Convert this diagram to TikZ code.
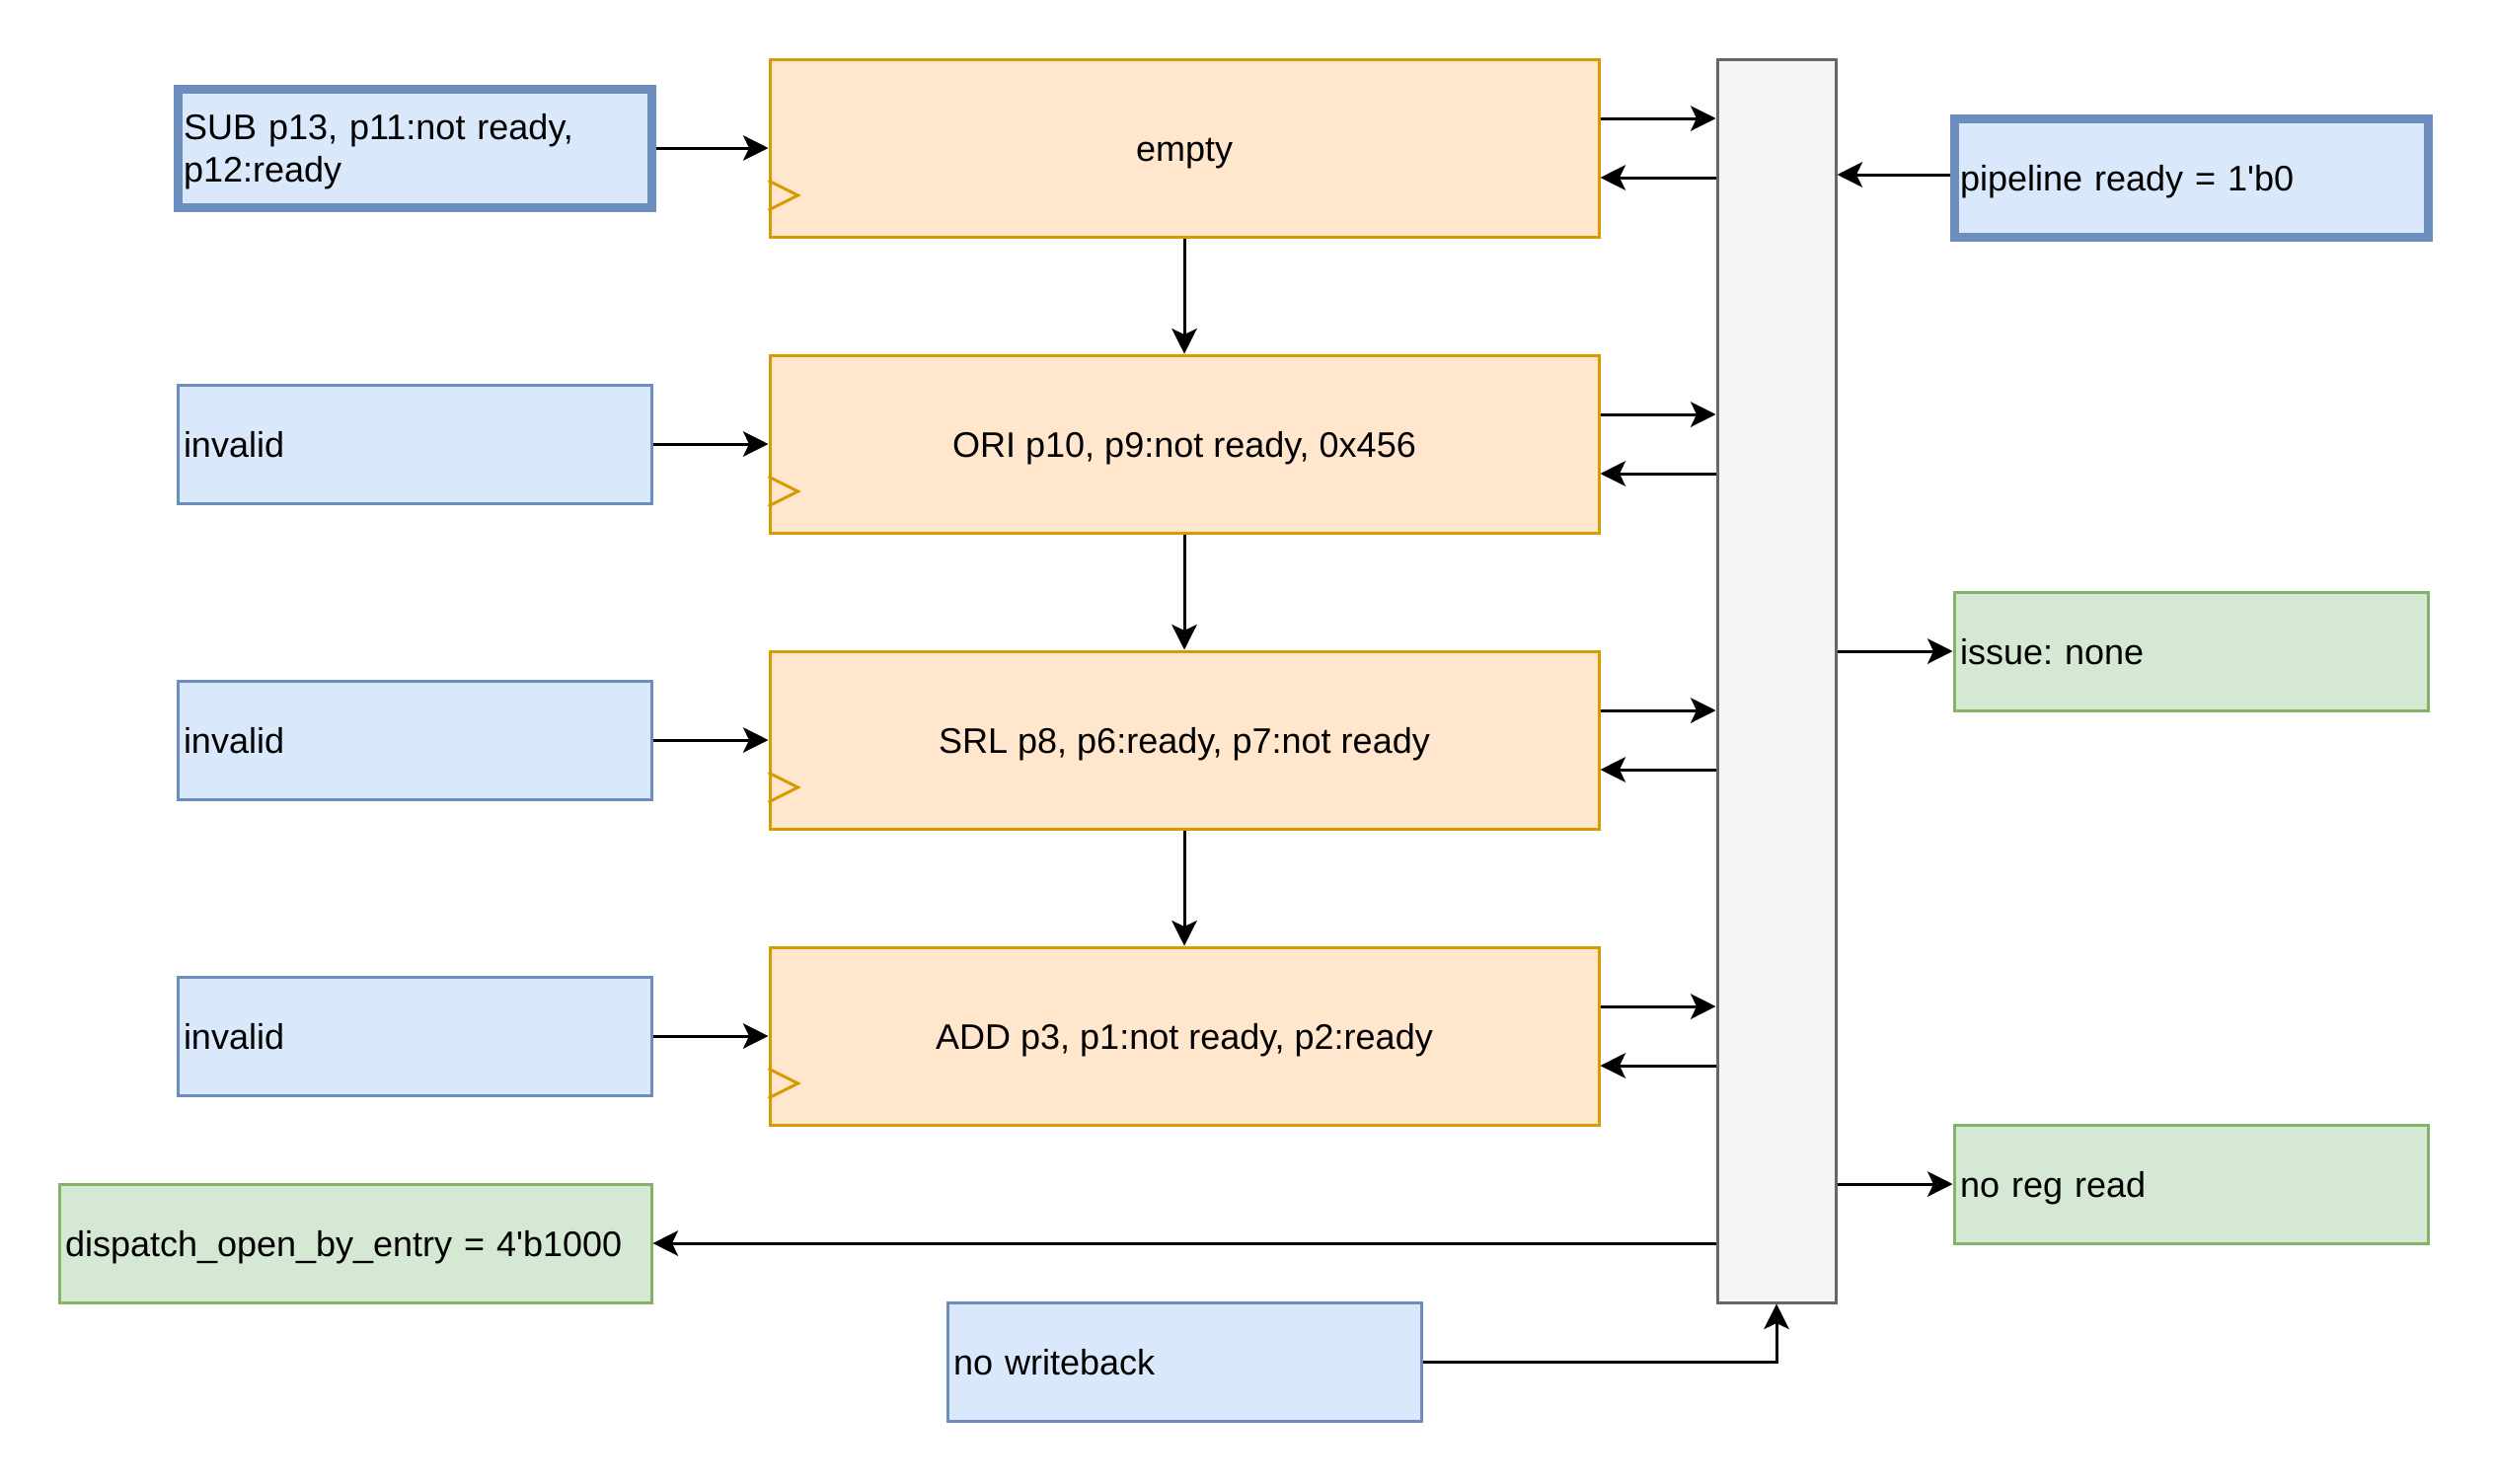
\documentclass[tikz,border=0pt]{standalone}
\usepackage{fontspec}
\setmainfont{Liberation Sans}
\usetikzlibrary{arrows.meta}
\definecolor{bluefill}{HTML}{DAE8FC}
\definecolor{bluestroke}{HTML}{6C8EBF}
\definecolor{orfill}{HTML}{FFE6CC}
\definecolor{orstroke}{HTML}{D79B00}
\definecolor{grfill}{HTML}{D5E8D4}
\definecolor{grstroke}{HTML}{82B366}
\definecolor{gyfill}{HTML}{F5F5F5}
\definecolor{gystroke}{HTML}{666666}
\frenchspacing
\begin{document}
\begin{tikzpicture}[x=1pt,y=-1pt,
  every node/.style={font=\fontsize{12}{14.4}\selectfont\frenchspacing, text height=8.8pt, text depth=0pt},
  lbox/.style={rectangle, line width=1pt, text width=156pt, align=left, inner xsep=2pt, inner ysep=0pt, minimum height=40pt},
  bluebox/.style={lbox, fill=bluefill, draw=bluestroke},
  thickblue/.style={bluebox, line width=3pt},
  greenbox/.style={lbox, fill=grfill, draw=grstroke},
  regbox/.style={rectangle, line width=1pt, fill=orfill, draw=orstroke, minimum width=280pt, minimum height=60pt, inner sep=0pt},
  barbox/.style={rectangle, line width=1pt, fill=gyfill, draw=gystroke, minimum width=40pt, minimum height=420pt, inner sep=0pt},
  arr/.style={line width=1pt, -{Stealth[length=8.5pt,width=8.5pt,inset=2pt]}},
  clock/.style={draw=orstroke, line width=1pt}
]
\useasboundingbox (0,0) rectangle (842,501);

% register entries
\node[regbox] (o1) at (400,50) {empty};
\node[regbox] (o2) at (400,150) {ORI p10, p9:not ready, 0x456};
\node[regbox] (o3) at (400,250) {SRL p8, p6:ready, p7:not ready};
\node[regbox] (o4) at (400,350) {ADD p3, p1:not ready, p2:ready};

% clock marks
\foreach \o in {o1,o2,o3,o4}{
  \draw[clock] ([yshift=-11pt]\o.west) -- ([xshift=10pt,yshift=-16pt]\o.west) -- ([yshift=-21pt]\o.west);
}

% control bar
\node[barbox] (gray) at (600,230) {};

% inputs on the left
\node[thickblue, text depth=14.4pt] (sub) at (140,50) {SUB p13, p11:not ready,\\p12:ready};
\node[bluebox] (in2) at (140,150) {invalid};
\node[bluebox] (in3) at (140,250) {invalid};
\node[bluebox] (in4) at (140,350) {invalid};

% other boxes
\node[greenbox, text width=196pt] (disp) at (120,420) {dispatch\_open\_by\_entry = 4\textquotesingle b1000};
\node[bluebox] (nowb) at (400,460) {no writeback};
\node[thickblue] (pipe) at (740,60) {pipeline ready = 1\textquotesingle b0};
\node[greenbox] (issue) at (740,220) {issue: none};
\node[greenbox] (noreg) at (740,400) {no reg read};

% left to entries
\draw[arr] (sub.east) -- (o1.west);
\draw[arr] (in2.east) -- (o2.west);
\draw[arr] (in3.east) -- (o3.west);
\draw[arr] (in4.east) -- (o4.west);

% entry chain
\draw[arr] (o1.south) -- (o2.north);
\draw[arr] (o2.south) -- (o3.north);
\draw[arr] (o3.south) -- (o4.north);

% entries <-> bar
\foreach \o in {o1,o2,o3,o4}{
  \draw[arr] ([yshift=10pt]\o.east) -- ([yshift=10pt]\o.east -| gray.west);
  \draw[arr] ([yshift=-10pt]\o.east -| gray.west) -- ([yshift=-10pt]\o.east);
}

% right side
\draw[arr] ([yshift=1pt]pipe.west) -- ([yshift=1pt]pipe.west -| gray.east);
\draw[arr] (issue.west -| gray.east) -- (issue.west);
\draw[arr] (noreg.west -| gray.east) -- (noreg.west);

% bottom
\draw[arr] (disp.east -| gray.west) -- (disp.east);
\draw[arr] (nowb.east) -| (gray.south);
\end{tikzpicture}
\end{document}
